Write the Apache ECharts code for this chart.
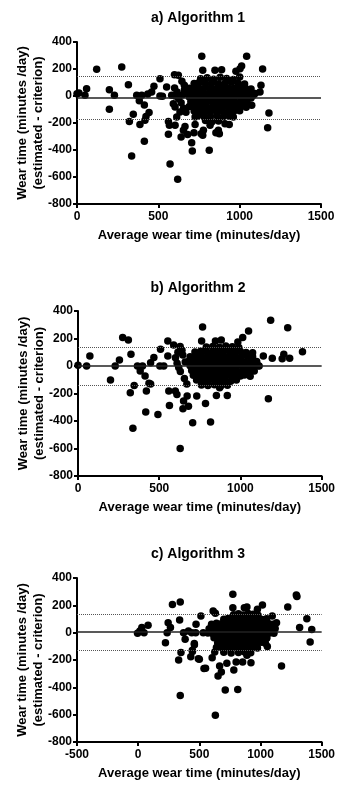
<!DOCTYPE html>
<html>
<head>
<meta charset="utf-8">
<script src="https://cdn.jsdelivr.net/npm/echarts@6/dist/echarts.min.js"></script>
<style>
  html, body { margin: 0; padding: 0; background: #fff; }
  #chart { width: 338px; height: 785px; }
</style>
</head>
<body>
<div id="chart"></div>
<script>
// panel titles
const panelTitles = ['a) Algorithm 1', 'b) Algorithm 2', 'c) Algorithm 3'];

// axis ranges / ticks
const xMin = [0, 0, -500];
const xMax = [1500, 1500, 1500];
const yTicks = [-800, -600, -400, -200, 0, 200, 400];

const meanDiff = [-15, 3, 5];
const upperLoA = [150, 140, 138];
const lowerLoA = [-170, -138, -128];

// Algorithm 1: scattered points [average, difference]
const algo1Spread = [
  [0, 17], [12, 22], [49, 5], [59, 54], [121, 198], [199, 47], [199, -99], [230, 5],
  [275, 215], [316, 84], [322, -188], [346, -136], [336, -444], [367, 5], [383, -35],
  [387, -212], [398, 5], [414, -67], [424, -151], [418, -180], [414, -336], [435, 15],
  [443, -123], [459, 30], [473, 72], [510, 128], [510, 0], [525, -2], [551, 67],
  [562, -188], [568, -217], [562, -284], [572, -504], [599, 158], [623, 153], [603, 0],
  [582, 5], [619, -617], [592, -57], [603, -81], [613, -156], [603, -217], [633, -119],
  [640, -304], [654, -254], [664, -225], [680, -286], [705, -346], [709, -407],
  [726, -212], [726, -156], [763, -279], [767, 294], [773, 190], [746, -131],
  [1043, 294], [1141, 200], [1012, 222], [1002, 202], [977, 183], [889, 195], [848, 190],
  [1131, 79], [1125, 30], [1180, -126], [1172, -235], [719, -272], [773, -291],
  [777, -254], [854, -272], [875, -279], [869, -254], [936, -212], [910, -205],
  [818, -217], [961, -156], [1074, -69], [1084, 5], [813, -402],
  [600, 60], [615, 30], [625, -20], [640, -50], [650, 10], [660, 45], [655, -90],
  [670, -120], [660, 80], [645, 110]
];
// Algorithm 1: dense core of the cloud
const algo1Core = [
  [760, 128], [800, 135], [840, 125], [880, 138], [920, 130], [960, 122], [1000, 140],
  [720, 92], [750, 100], [790, 95], [830, 98], [870, 90], [910, 96], [950, 102], [990, 94], [1030, 88],
  [690, 58], [720, 62], [755, 55], [790, 64], [825, 60], [860, 57], [895, 63], [930, 60], [965, 55], [1000, 62], [1035, 58], [1070, 52],
  [680, 22], [710, 28], [745, 25], [780, 20], [815, 27], [850, 24], [885, 26], [920, 22], [955, 28], [990, 25], [1025, 20], [1060, 26], [1095, 18],
  [690, -8], [720, -12], [755, -10], [790, -6], [825, -14], [860, -10], [895, -8], [930, -12], [965, -10], [1000, -6], [1035, -12], [1070, -15],
  [700, -42], [730, -48], [765, -45], [800, -40], [835, -47], [870, -44], [905, -46], [940, -42], [975, -48], [1010, -45], [1045, -40],
  [690, -78], [725, -82], [760, -80], [795, -76], [830, -84], [865, -80], [900, -78], [935, -82], [970, -80], [1005, -76], [1040, -84],
  [720, -112], [755, -118], [790, -115], [825, -110], [860, -118], [895, -114], [930, -116], [965, -112], [1000, -110],
  [740, -148], [780, -152], [820, -150], [860, -146], [900, -154], [940, -150],
  [790, -182], [830, -190], [870, -186]
];

// Algorithm 2
const algo2Spread = [
  [0, 5], [53, 0], [73, 73], [200, -102], [229, 0], [255, 44], [275, 207], [310, 190],
  [326, 85], [346, -141], [322, -194], [338, -452], [366, 0], [383, -36], [397, 0],
  [413, -73], [421, -182], [437, -126], [447, -130], [417, -335], [447, 24], [467, 61],
  [492, -352], [508, 122], [504, 0], [528, 0], [553, 182], [559, -182], [563, -287],
  [553, 73], [589, 153], [629, 141], [599, -182], [629, -600], [609, -207], [650, -255],
  [646, -311], [680, -292], [706, -413], [731, -219], [672, -219], [767, 284], [761, 182],
  [1186, 333], [1291, 279], [1050, 255], [1014, 207], [984, 175], [882, 190], [846, 182],
  [1075, 97], [1141, 73], [1196, 56], [1267, 85], [1257, 53], [1303, 56], [1382, 104],
  [1172, -238], [816, -408], [785, -272], [852, -214], [919, -214], [872, -158],
  [1000, -73], [1115, 0],
  [600, 60], [610, 20], [620, -10], [630, -40], [645, 80], [655, -90], [660, 30],
  [670, -130], [615, 100], [640, 115]
];
const algo2Core = [
  [790, 138], [830, 142], [870, 136], [910, 145], [950, 140], [990, 135],
  [720, 102], [755, 108], [790, 105], [825, 100], [860, 107], [895, 104], [930, 110], [965, 102], [1000, 106], [1035, 98],
  [690, 68], [725, 72], [760, 70], [795, 66], [830, 74], [865, 70], [900, 68], [935, 72], [970, 70], [1005, 66], [1040, 74], [1075, 68],
  [680, 32], [715, 38], [750, 35], [785, 30], [820, 37], [855, 34], [890, 36], [925, 32], [960, 38], [995, 35], [1030, 30], [1065, 36], [1100, 32],
  [690, 2], [725, -2], [760, 0], [795, 4], [830, -4], [865, 0], [900, 2], [935, -2], [970, 0], [1005, 4], [1040, -3], [1075, 0], [1110, 2],
  [700, -32], [735, -38], [770, -35], [805, -30], [840, -37], [875, -34], [910, -36], [945, -32], [980, -38], [1015, -35], [1050, -30], [1085, -36],
  [710, -68], [745, -72], [780, -70], [815, -66], [850, -74], [885, -70], [920, -68], [955, -72], [990, -70], [1025, -66], [1060, -74],
  [730, -102], [765, -108], [800, -105], [835, -100], [870, -107], [905, -104], [940, -110], [975, -102],
  [760, -138], [800, -142], [840, -136], [880, -144], [920, -140]
];

// Algorithm 3
const algo3Spread = [
  [-5, -5], [14, 12], [30, 37], [48, 0], [81, 54], [223, -73], [245, 73], [264, 37],
  [237, 0], [280, 207], [344, 224], [339, 93], [344, -459], [350, -146], [331, -200],
  [371, 0], [384, -49], [411, 12], [430, -176], [444, -137], [460, -88], [473, 61],
  [438, 0], [500, -195], [513, 122], [538, -263],
  [774, 281], [774, 183], [613, 159], [631, 142], [1016, 203], [975, 171], [868, 183],
  [889, 188], [1096, 122], [1131, 73], [1223, 188], [1293, 276], [1298, 264], [1379, 102],
  [1320, 37], [1419, 24], [1406, -68], [1172, -244], [631, -605], [712, -420], [814, -415],
  [459, -80], [443, -129], [470, 0], [532, 0], [551, -261], [653, -317], [680, -288],
  [666, -244], [725, -224], [782, -273], [801, -215], [854, -215], [922, -220], [889, -166],
  [1056, -102], [1051, -39], [626, -142], [605, -183], [492, -190]
];
const algo3Core = [
  [780, 132], [820, 138], [860, 130], [900, 140], [940, 135], [980, 128],
  [700, 98], [735, 104], [770, 100], [805, 96], [840, 103], [875, 100], [910, 98], [945, 104], [980, 100], [1015, 96], [1050, 102],
  [600, 62], [640, 68], [680, 65], [715, 60], [750, 67], [785, 64], [820, 66], [855, 62], [890, 68], [925, 65], [960, 60], [995, 66], [1030, 63], [1065, 67], [1100, 62],
  [580, 28], [620, 33], [660, 30], [700, 26], [735, 32], [770, 29], [805, 31], [840, 27], [875, 33], [910, 30], [945, 26], [980, 32], [1015, 29], [1050, 31], [1085, 27], [1120, 30],
  [570, -3], [610, -8], [650, -5], [690, -1], [725, -7], [760, -4], [795, -6], [830, -2], [865, -8], [900, -5], [935, -1], [970, -7], [1005, -4], [1040, -6], [1075, -2], [1110, -5],
  [620, -38], [660, -43], [700, -40], [735, -36], [770, -42], [805, -39], [840, -41], [875, -37], [910, -43], [945, -40], [980, -36], [1015, -42], [1050, -39],
  [650, -73], [690, -78], [725, -75], [760, -71], [795, -77], [830, -74], [865, -76], [900, -72], [935, -78], [970, -75], [1005, -71], [1040, -77],
  [640, -108], [690, -113], [740, -110], [780, -106], [820, -112], [860, -109], [900, -111], [940, -107], [975, -113],
  [700, -143], [760, -148], [820, -145], [870, -141], [920, -147]
];

const panelData = [
  algo1Spread.concat(algo1Core),
  algo2Spread.concat(algo2Core),
  algo3Spread.concat(algo3Core)
];

const FONT = 'Liberation Sans, Arial, sans-serif';

const grids = [
  { left: 77, top: 42, width: 244, height: 162 },
  { left: 78, top: 311, width: 247, height: 165 },
  { left: 77, top: 578, width: 248, height: 164 }
];
const titleTops = [11, 281, 547];
const titleCenters = [198, 198, 198];

const myChart = echarts.init(document.getElementById('chart'));

const option = {
  backgroundColor: '#fff',
  animation: false,
  title: panelTitles.map((t, i) => ({
    text: t,
    left: titleCenters[i],
    top: titleTops[i],
    textAlign: 'center',
    padding: 0,
    textStyle: { fontFamily: FONT, fontSize: 14, fontWeight: 'bold', color: '#000' }
  })),
  grid: grids,
  xAxis: grids.map((g, i) => ({
    type: 'value',
    gridIndex: i,
    min: xMin[i],
    max: xMax[i],
    interval: 500,
    name: 'Average wear time (minutes/day)',
    nameLocation: 'middle',
    nameGap: 25,
    nameMoveOverlap: false,
    nameTextStyle: { fontFamily: FONT, fontSize: 13, fontWeight: 'bold', color: '#000' },
    axisLine: { show: true, onZero: false, lineStyle: { color: '#000', width: 2 } },
    axisTick: { show: true, length: 4, lineStyle: { color: '#000', width: 2 } },
    splitLine: { show: false },
    axisLabel: {
      color: '#000', fontFamily: FONT, fontSize: 12, fontWeight: 'bold', margin: 7,
      formatter: function (value) { return String(value); }
    }
  })),
  yAxis: grids.map((g, i) => ({
    type: 'value',
    gridIndex: i,
    min: yTicks[0],
    max: yTicks[yTicks.length - 1],
    interval: 200,
    name: 'Wear time (minutes /day)\n(estimated - criterion)',
    nameLocation: 'middle',
    nameGap: 31,
    nameMoveOverlap: false,
    nameTextStyle: { fontFamily: FONT, fontSize: 13, fontWeight: 'bold', color: '#000', lineHeight: 16 },
    axisLine: { show: true, onZero: false, lineStyle: { color: '#000', width: 2 } },
    axisTick: { show: true, length: 4, lineStyle: { color: '#000', width: 2 } },
    splitLine: { show: false },
    axisLabel: {
      color: '#000', fontFamily: FONT, fontSize: 12, fontWeight: 'bold', margin: 5,
      formatter: function (value) { return String(value); }
    }
  })),
  series: panelData.map((d, i) => ({
    type: 'scatter',
    xAxisIndex: i,
    yAxisIndex: i,
    data: d,
    symbol: 'circle',
    symbolSize: 7.5,
    itemStyle: { color: '#000', opacity: 1 },
    emphasis: { disabled: true },
    markLine: {
      silent: true,
      symbol: ['none', 'none'],
      label: { show: false },
      data: [
        { yAxis: meanDiff[i], lineStyle: { type: 'solid', color: '#222', width: 1.5 } },
        { yAxis: upperLoA[i], lineStyle: { type: 'dotted', color: '#555', width: 1 } },
        { yAxis: lowerLoA[i], lineStyle: { type: 'dotted', color: '#555', width: 1 } }
      ]
    }
  }))
};

myChart.setOption(option);
</script>
</body>
</html>
